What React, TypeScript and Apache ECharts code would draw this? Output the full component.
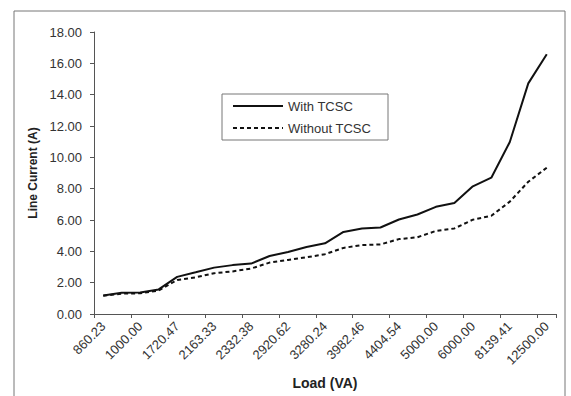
import React, { useEffect, useRef } from "react";
import * as echarts from "echarts";

// Load categories (VA). Odd-indexed labels are hidden in the reference; their
// values are estimates between the visible neighbours.
const loads = [
  "860.23", "930.00", "1000.00", "1360.00", "1720.47", "1940.00", "2163.33", "2250.00",
  "2332.38", "2630.00", "2920.62", "3100.00", "3280.24", "3630.00", "3982.46", "4190.00",
  "4404.54", "4700.00", "5000.00", "5500.00", "6000.00", "7070.00", "8139.41", "10300.00",
  "12500.00",
];
const withTCSC = [
  1.18, 1.35, 1.37, 1.57, 2.37, 2.66, 2.96, 3.12, 3.22, 3.7, 3.96, 4.28, 4.51, 5.24, 5.46,
  5.52, 6.03, 6.35, 6.84, 7.08, 8.15, 8.7, 10.98, 14.72, 16.58,
];
const withoutTCSC = [
  1.17, 1.3, 1.32, 1.5, 2.17, 2.34, 2.6, 2.72, 2.9, 3.28, 3.45, 3.62, 3.82, 4.22, 4.4,
  4.44, 4.78, 4.9, 5.3, 5.46, 6.02, 6.27, 7.17, 8.44, 9.34,
];
const seriesNames = ["With TCSC", "Without TCSC"];

const FONT = "'Liberation Sans', Arial, sans-serif";
const DASH = [4, 3];

export default function App() {
  const ref = useRef<HTMLDivElement>(null);
  useEffect(() => {
    if (!ref.current) return;
    const chart = echarts.init(ref.current, undefined, { renderer: "svg" });
    const legendItems = seriesNames.map((name, i) => {
      const y = 106 + i * 22;
      return [
        {
          type: "line",
          shape: { x1: 233, y1: y, x2: 283, y2: y },
          style: {
            stroke: "#111",
            lineWidth: 2,
            lineDash: i === 1 ? DASH : null,
          },
          silent: true,
        },
        {
          type: "text",
          x: 288,
          y,
          style: {
            text: name,
            fill: "#333",
            fontSize: 13,
            fontFamily: FONT,
            verticalAlign: "middle",
            align: "left",
          },
          silent: true,
        },
      ];
    });
    chart.setOption({
      animation: false,
      backgroundColor: "#ffffff",
      textStyle: { fontFamily: FONT },
      graphic: [
        {
          type: "rect",
          shape: { x: 14, y: 11, width: 551, height: 400 },
          style: { fill: "none", stroke: "#777", lineWidth: 1 },
          silent: true,
        },
        {
          type: "rect",
          shape: { x: 222, y: 94, width: 166, height: 46 },
          style: { fill: "#fff", stroke: "#777", lineWidth: 1 },
          silent: true,
          z: 10,
        },
        ...legendItems.flat().map((el) => ({ ...el, z: 11 })),
      ],
      grid: { left: 94, top: 32, width: 462, height: 282, containLabel: false },
      xAxis: {
        type: "category",
        data: loads,
        boundaryGap: true,
        name: "Load (VA)",
        nameLocation: "middle",
        nameGap: 62,
        nameTextStyle: { fontSize: 14, fontWeight: "bold", color: "#222", fontFamily: FONT },
        axisLine: { lineStyle: { color: "#555", width: 1 } },
        axisTick: { show: true, length: 4, lineStyle: { color: "#555" } },
        axisLabel: {
          interval: 1,
          rotate: 45,
          margin: 10,
          fontSize: 13,
          color: "#333",
          fontFamily: FONT,
        },
        splitLine: { show: false },
      },
      yAxis: {
        type: "value",
        min: 0,
        max: 18,
        interval: 2,
        name: "Line Current (A)",
        nameLocation: "middle",
        nameGap: 55,
        nameTextStyle: { fontSize: 12, fontWeight: "bold", color: "#222", fontFamily: FONT },
        axisLine: { show: true, lineStyle: { color: "#555", width: 1 } },
        axisTick: { show: true, length: 4, lineStyle: { color: "#555" } },
        axisLabel: {
          margin: 12,
          fontSize: 13,
          color: "#333",
          fontFamily: FONT,
          formatter: (v: number) => v.toFixed(2),
        },
        splitLine: { show: false },
      },
      series: [
        {
          name: seriesNames[0],
          type: "line",
          data: withTCSC,
          symbol: "none",
          lineStyle: { color: "#111", width: 2 },
          itemStyle: { color: "#111" },
        },
        {
          name: seriesNames[1],
          type: "line",
          data: withoutTCSC,
          symbol: "none",
          lineStyle: { color: "#111", width: 2, type: DASH },
          itemStyle: { color: "#111" },
        },
      ],
    });
    return () => chart.dispose();
  }, []);
  return (
    <div
      ref={ref}
      style={{ position: "fixed", left: 0, top: 0, width: 571, height: 396 }}
    />
  );
}
